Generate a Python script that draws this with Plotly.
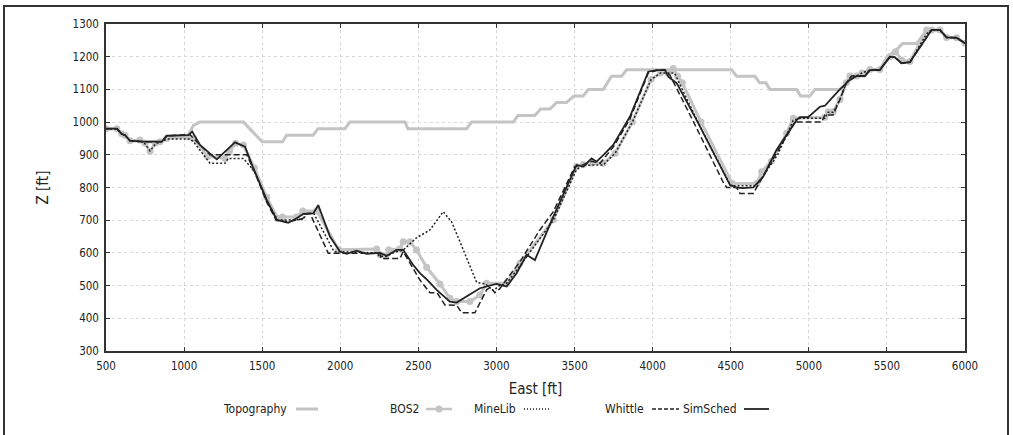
import plotly.graph_objects as go

# ---------------- data (East [ft], Z [ft]) ----------------
topo_x = [500, 570, 600, 622, 654, 740, 857, 889, 1027, 1060, 1100, 1380, 1500, 1630, 1657, 1826, 1858,
          2030, 2062, 2414, 2433, 2809, 2841, 3107, 3138, 3246, 3283, 3343, 3385, 3449, 3496, 3556, 3588,
          3684, 3737, 3801, 3833, 4506, 4538, 4655, 4685, 4725, 4751, 4922, 4947, 5007, 5039, 5199, 5263,
          5306, 5359, 5391, 5455, 5500, 5560, 5600, 5690, 5754, 5839, 5882, 5946, 6000]
topo_z = [980, 980, 964, 960, 943, 940, 940, 958, 960, 990, 1000, 1000, 940, 940, 960, 960, 980,
          980, 1000, 1000, 980, 980, 1000, 1000, 1020, 1020, 1040, 1040, 1060, 1060, 1080, 1080, 1100,
          1100, 1140, 1140, 1160, 1160, 1140, 1140, 1120, 1120, 1100, 1100, 1080, 1080, 1100, 1100, 1129,
          1141, 1141, 1159, 1160, 1200, 1220, 1240, 1240, 1280, 1282, 1259, 1258, 1241]

bos_x = [500, 570, 600, 622, 654, 717, 750, 782, 815, 846, 889, 1027, 1060, 1150, 1262, 1290, 1330, 1380,
         1450, 1529, 1600, 1630, 1720, 1760, 1850, 1990, 2233, 2255, 2290, 2310, 2380, 2403, 2446, 2488,
         2553, 2638, 2702, 2745, 2830, 2894, 2937, 3065, 3150, 3364, 3513, 3556, 3609, 3684, 3760, 3870,
         3990, 4050, 4100, 4132, 4160, 4190, 4310, 4510, 4666, 4698, 4760, 4858, 4900, 5103, 5124, 5156,
         5200, 5240, 5263, 5306, 5340, 5391, 5455, 5519, 5555, 5594, 5647, 5754, 5786, 5839, 5882, 5946, 6000]
bos_z = [980, 980, 964, 960, 943, 945, 935, 910, 935, 940, 950, 955, 950, 895, 889, 910, 935, 930,
         860, 770, 705, 710, 710, 728, 728, 610, 612, 595, 590, 610, 612, 634, 634, 609,
         556, 505, 461, 451, 451, 471, 507, 507, 568, 701, 864, 870, 875, 874, 905, 1000,
         1130, 1150, 1150, 1164, 1140, 1120, 1000, 812, 812, 848, 880, 966, 1012, 1015, 1032, 1032,
         1070, 1120, 1141, 1141, 1150, 1161, 1161, 1200, 1215, 1190, 1185, 1282, 1282, 1282, 1259, 1258, 1241]

minelib_x = [500, 570, 600, 622, 654, 740, 782, 820, 857, 889, 1038, 1060, 1166, 1262, 1283, 1379, 1450,
             1529, 1600, 1760, 1790, 1830, 1960, 2233, 2250, 2297, 2340, 2403, 2488, 2574, 2659, 2713,
             2788, 2873, 2930, 2980, 3020, 3065, 3150, 3364, 3513, 3556, 3684, 3760, 3870, 3990, 4050,
             4140, 4180, 4300, 4500, 4660, 4700, 4800, 4900, 4943, 5103, 5124, 5156, 5200, 5240, 5274,
             5306, 5340, 5391, 5455, 5519, 5551, 5594, 5647, 5754, 5786, 5839, 5882, 5946, 6000]
minelib_z = [980, 980, 964, 960, 943, 940, 912, 935, 940, 948, 948, 940, 874, 874, 889, 889, 850,
             760, 700, 702, 721, 721, 604, 600, 590, 590, 600, 609, 646, 670, 726, 695,
             609, 510, 505, 485, 500, 507, 560, 700, 855, 868, 869, 905, 1000, 1130, 1150,
             1150, 1110, 990, 805, 805, 830, 900, 1005, 1012, 1012, 1030, 1030, 1070, 1120, 1141,
             1141, 1150, 1159, 1160, 1200, 1198, 1180, 1183, 1270, 1282, 1282, 1259, 1258, 1241]

whittle_x = [500, 570, 600, 622, 654, 740, 857, 889, 1038, 1060, 1166, 1401, 1450, 1529, 1590, 1667,
             1760, 1780, 1806, 1923, 2254, 2260, 2382, 2403, 2510, 2574, 2620, 2670, 2745, 2777, 2862,
             2937, 2960, 2990, 3020, 3150, 3278, 3364, 3502, 3556, 3609, 3663, 3750, 3855, 3972, 4025,
             4079, 4110, 4245, 4455, 4475, 4538, 4559, 4644, 4666, 4793, 4911, 4943, 5082, 5103, 5156,
             5200, 5240, 5274, 5306, 5359, 5391, 5455, 5519, 5551, 5594, 5647, 5786, 5839, 5882, 5946, 6000]
whittle_z = [980, 980, 964, 960, 943, 940, 940, 958, 962, 950, 900, 900, 850, 755, 700, 695,
             705, 720, 721, 599, 599, 583, 583, 604, 517, 478, 478, 441, 440, 417, 417,
             487, 495, 478, 490, 573, 670, 726, 864, 870, 880, 874, 925, 1010, 1150, 1158,
             1160, 1144, 1017, 813, 800, 800, 782, 782, 800, 905, 1001, 1000, 1000, 1022, 1022,
             1070, 1120, 1141, 1141, 1141, 1159, 1160, 1200, 1198, 1180, 1183, 1282, 1282, 1259, 1258, 1241]

simsched_x = [500, 570, 600, 622, 654, 740, 857, 889, 1027, 1052, 1102, 1209, 1326, 1390, 1443, 1529,
              1593, 1667, 1721, 1763, 1827, 1859, 1934, 1998, 2041, 2105, 2169, 2254, 2297, 2361, 2403,
              2467, 2510, 2560, 2617, 2702, 2745, 2830, 2894, 3001, 3065, 3129, 3193, 3246, 3364, 3513,
              3556, 3609, 3641, 3684, 3748, 3855, 3972, 4025, 4079, 4100, 4154, 4282, 4495, 4538, 4580,
              4644, 4708, 4793, 4922, 4943, 4996, 5071, 5103, 5156, 5199, 5263, 5306, 5359, 5391, 5455,
              5519, 5551, 5594, 5647, 5786, 5839, 5882, 5946, 6000]
simsched_z = [980, 980, 964, 960, 943, 940, 940, 958, 960, 971, 930, 886, 938, 925, 859, 762,
              701, 692, 706, 719, 721, 746, 650, 604, 597, 607, 597, 600, 591, 609, 609,
              563, 538, 516, 487, 451, 448, 474, 492, 505, 497, 538, 594, 578, 711, 869,
              864, 889, 879, 899, 930, 1017, 1154, 1159, 1159, 1139, 1119, 1006, 808, 800, 798,
              800, 833, 915, 1006, 1015, 1015, 1047, 1050, 1078, 1100, 1129, 1141, 1141, 1159, 1159,
              1200, 1198, 1180, 1183, 1282, 1282, 1259, 1258, 1241]

legend_names = ["Topography", "BOS2", "MineLib", "Whittle", "SimSched"]

# ---------------- styling ----------------
GRAY = "#c4c4c4"
DARK = "#222222"
COND = "DejaVu Sans Condensed, DejaVu Sans, sans-serif"

fig = go.Figure()
fig.add_trace(go.Scatter(x=topo_x, y=topo_z, mode="lines", name=legend_names[0],
                         line=dict(color=GRAY, width=3)))
fig.add_trace(go.Scatter(x=bos_x, y=bos_z, mode="lines+markers", name=legend_names[1],
                         line=dict(color=GRAY, width=3), marker=dict(color=GRAY, size=7)))
fig.add_trace(go.Scatter(x=minelib_x, y=minelib_z, mode="lines", name=legend_names[2],
                         line=dict(color=DARK, width=1.5, dash="2px,2px")))
fig.add_trace(go.Scatter(x=whittle_x, y=whittle_z, mode="lines", name=legend_names[3],
                         line=dict(color=DARK, width=1.5, dash="6px,3px")))
fig.add_trace(go.Scatter(x=simsched_x, y=simsched_z, mode="lines", name=legend_names[4],
                         line=dict(color=DARK, width=1.8)))

axis_common = dict(showline=True, linecolor="#333333", linewidth=1.5, mirror="ticks",
                   ticks="inside", ticklen=4, tickcolor="#333333", ticklabelstandoff=3,
                   showgrid=True, gridcolor="#d8d8d8", griddash="dot", gridwidth=1,
                   zeroline=False, tickfont=dict(family=COND, size=11.5, color=DARK))

fig.update_xaxes(range=[500, 6000], dtick=500, tick0=500,
                 title=dict(text="East [ft]", font=dict(family=COND, size=15, color=DARK), standoff=12),
                 **axis_common)
fig.update_yaxes(range=[300, 1300], dtick=100, tick0=300,
                 title=dict(text="Z [ft]", font=dict(family=COND, size=15, color=DARK), standoff=20),
                 **axis_common)

# ---- manual legend (labels to the left of the samples) ----
W, H = 1013, 435
L, R, T, B = 106, 48, 24, 84
pw, ph = W - L - R, H - T - B
def px(x):
    return (x - L) / pw
def py(y):
    return (H - B - y) / ph

leg_y = 409
items = [  # (label right edge, sample x0, x1, style)
    (289, 296, 318, dict(color=GRAY, width=3)),
    (421, 426, 452, dict(color=GRAY, width=2.5)),
    (518, 524, 551, dict(color=DARK, width=1.5, dash="1px,2px")),
    (646, 652, 679, dict(color=DARK, width=1.5, dash="4px,2px")),
    (739, 744, 769, dict(color=DARK, width=1.8)),
]
shapes = []
annotations = []
for name, (tx, x0, x1, st) in zip(legend_names, items):
    annotations.append(dict(xref="paper", yref="paper", x=px(tx), y=py(leg_y), text=name,
                            showarrow=False, xanchor="right", yanchor="middle",
                            font=dict(family=COND, size=12, color=DARK)))
    shapes.append(dict(type="line", xref="paper", yref="paper", x0=px(x0), x1=px(x1),
                       y0=py(leg_y), y1=py(leg_y), line=st))
# BOS2 sample marker
cx = 439
shapes.append(dict(type="circle", xref="paper", yref="paper",
                   x0=px(cx - 3.5), x1=px(cx + 3.5), y0=py(leg_y + 3.5), y1=py(leg_y - 3.5),
                   fillcolor=GRAY, line=dict(color=GRAY, width=0)))
# outer frame
shapes.append(dict(type="rect", xref="paper", yref="paper",
                   x0=px(4), x1=px(1008), y0=py(445), y1=py(6),
                   line=dict(color="#333333", width=2), fillcolor="rgba(0,0,0,0)"))

fig.update_layout(width=W, height=H, margin=dict(l=L, r=R, t=T, b=B),
                  paper_bgcolor="white", plot_bgcolor="white", showlegend=False,
                  shapes=shapes, annotations=annotations)

fig.write_html("out.html")
